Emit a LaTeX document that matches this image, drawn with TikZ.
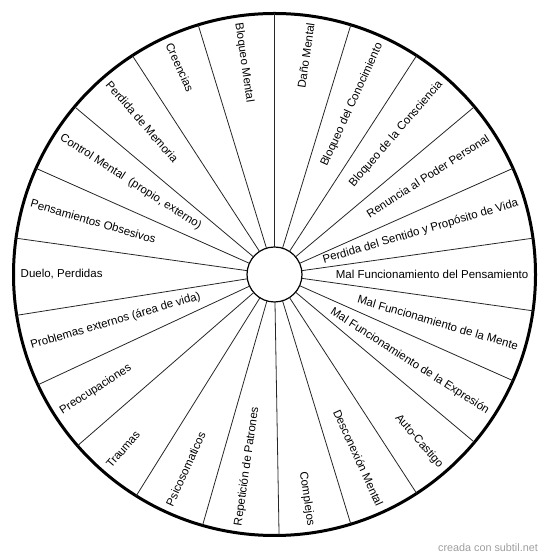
\documentclass[tikz,border=0pt]{standalone}
\usepackage{fontspec}
\setmainfont{Liberation Sans}
\usetikzlibrary{positioning}

\begin{document}
\begin{tikzpicture}[x=1pt, y=1pt,
  rim/.style={circle, draw=black, line width=3pt, minimum size=522pt, inner sep=0pt, outer sep=0pt},
  hub/.style={circle, draw=black, line width=1.2pt, fill=white, minimum size=55pt, inner sep=0pt, outer sep=0pt},
  spoke/.style={black!85, line width=0.8pt},
  rlabel/.style={anchor=east, inner sep=0pt, font=\fontsize{11.5}{13}\selectfont},
  llabel/.style={anchor=west, inner sep=0pt, font=\fontsize{11.5}{13}\selectfont},
  credit/.style={anchor=east, inner sep=0pt, text=black!38, font=\fontsize{10.8}{12}\selectfont}]
  \useasboundingbox (0,0) rectangle (550,559);
  \coordinate (c) at (274.5,284.5);
  \node[rim] (wheel) at (c) {};
  \node[hub] (hub) at (c) {};
  % spokes
  \foreach \k in {0,...,21} {
    \pgfmathsetmacro\a{90-16.3636*\k}
    \draw[spoke] (hub.\a) -- (wheel.\a);
  }
  % right half, read outwards
  \foreach \txt [count=\i from 0] in {Daño Mental, Bloqueo del Conocimiento,
      Bloqueo de la Consciencia, Renuncia al Poder Personal,
      Perdida del Sentido y Propósito de Vida, Mal Funcionamiento del Pensamiento,
      Mal Funcionamiento de la Mente, Mal Funcionamiento de la Expresión,
      Auto-Castigo, Desconexión Mental, Complejos} {
    \pgfmathsetmacro\a{81.8182-16.3636*\i}
    \node[rlabel, rotate=\a] (rl\i) at ([shift={(\a:254)}]c) {\txt};
  }
  % left half, read inwards
  \foreach \txt [count=\i from 11] in {Repetición de Patrones, Psicosomaticos,
      Traumas, Preocupaciones, Problemas externos (área de vida),
      {Duelo, Perdidas}, Pensamientos Obsesivos,
      {Control Mental~ (propio, externo)}, Perdida de Memoria,
      Creencias, Bloqueo Mental} {
    \pgfmathsetmacro\a{81.8182-16.3636*\i}
    \pgfmathsetmacro\r{\a+180}
    \node[llabel, rotate=\r] (ll\i) at ([shift={(\a:254)}]c) {\txt};
  }
  \node[credit] (credit) at (538,11) {creada con subtil.net};
\end{tikzpicture}
\end{document}
